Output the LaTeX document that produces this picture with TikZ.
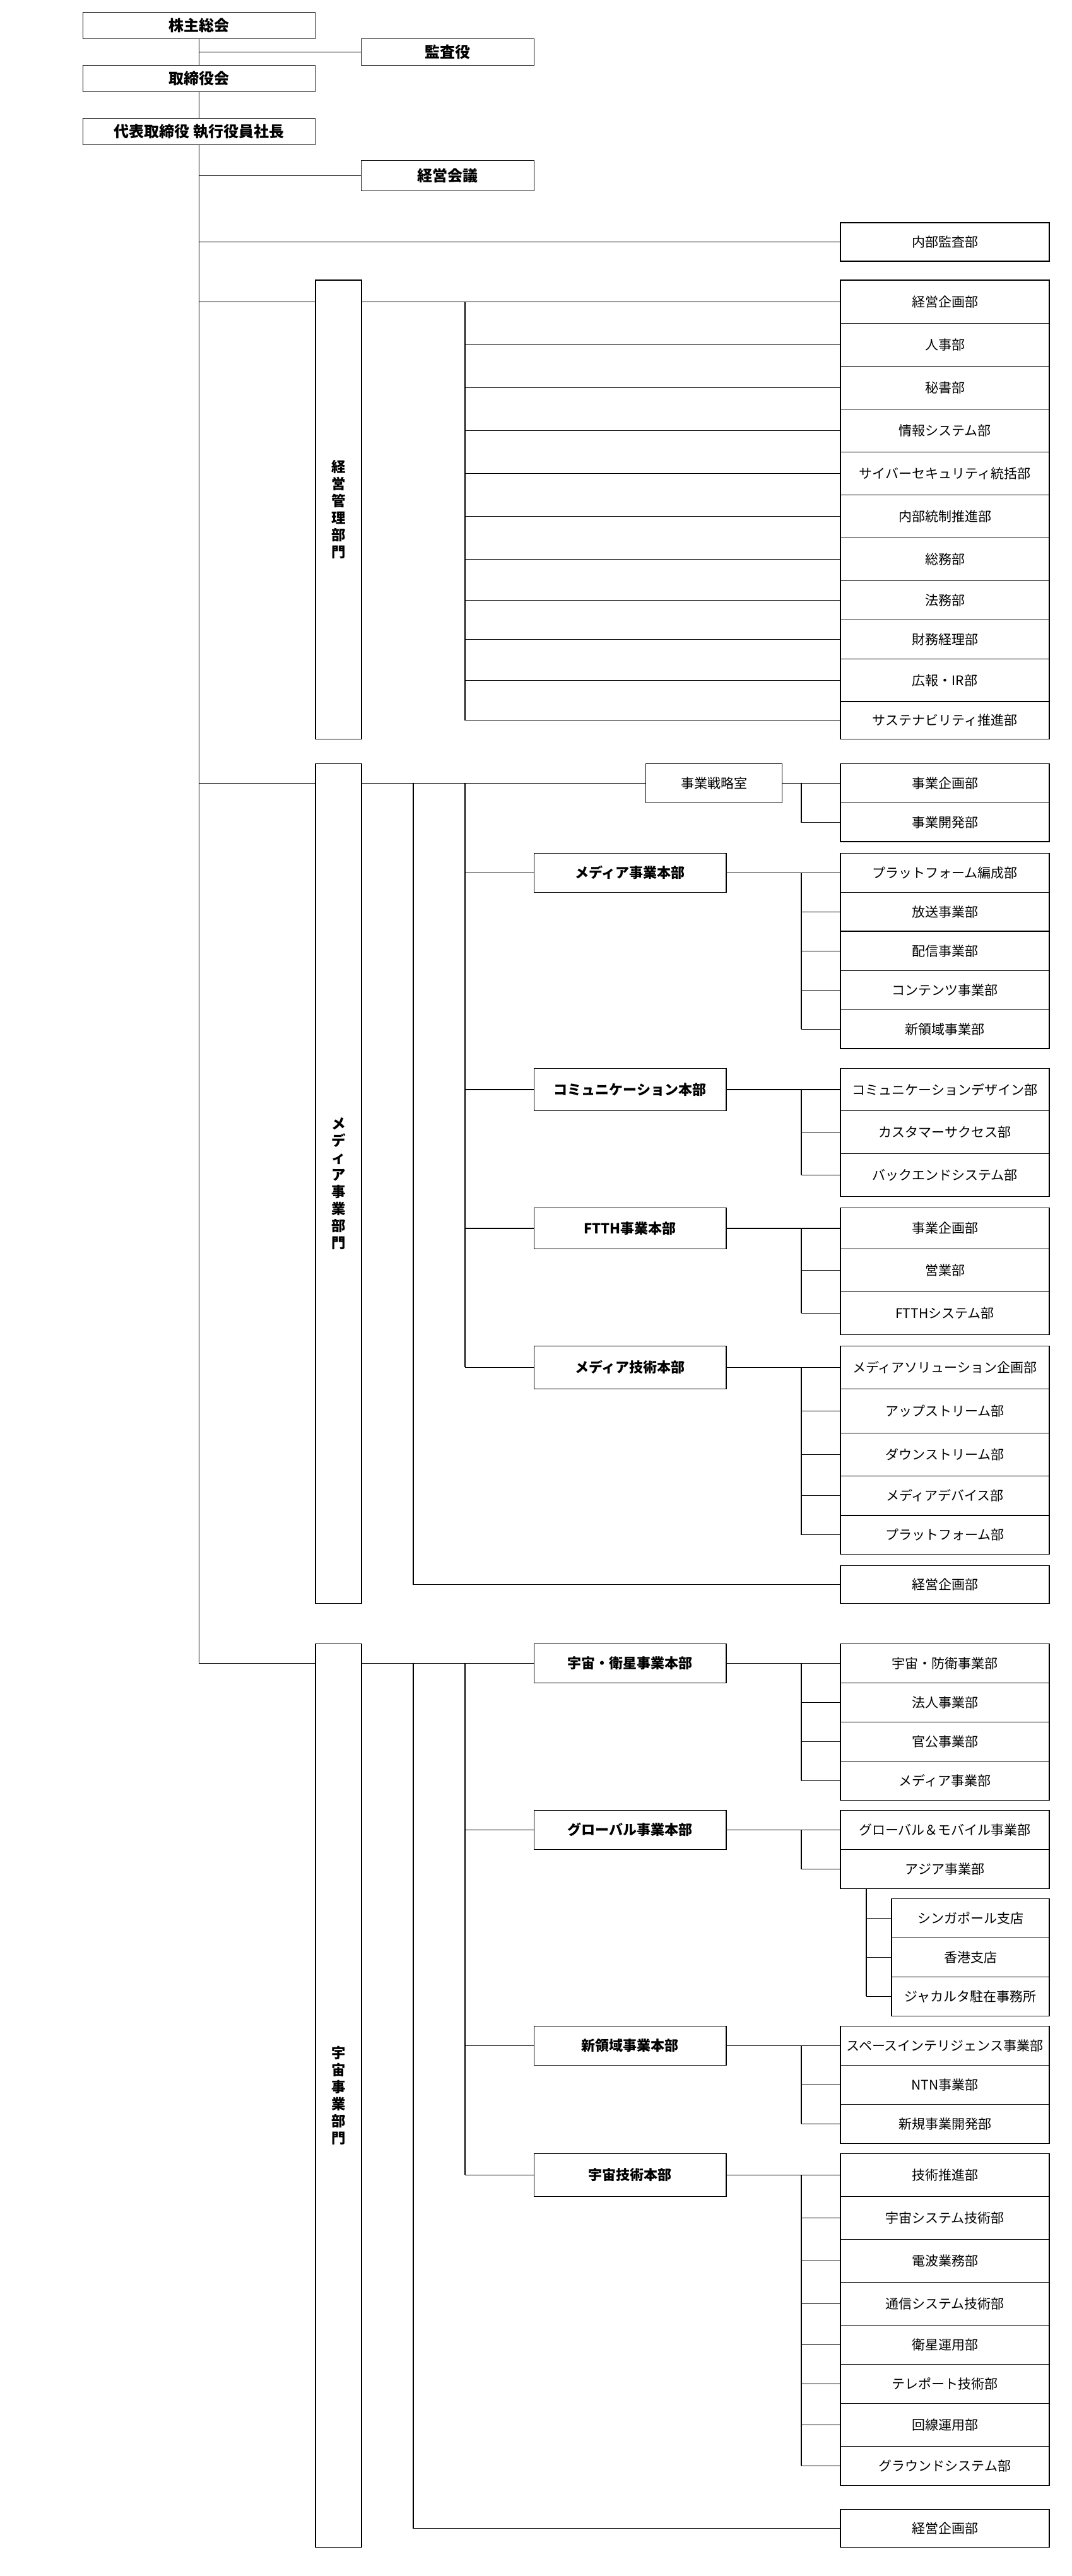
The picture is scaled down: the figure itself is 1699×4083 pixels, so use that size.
\documentclass[tikz,border=0pt]{standalone}
\usepackage{fontspec}
\setmainfont{Noto Sans CJK JP}
\tikzset{
  base/.style={draw, line width=1.4pt, inner sep=0pt, outer sep=0pt, rectangle, fill=white},
  topbox/.style={base, font=\bfseries\fontsize{24}{28}\selectfont},
  hqbox/.style={base, font=\bfseries\fontsize{22}{26}\selectfont},
  deptbox/.style={base, font=\fontsize{21}{25}\selectfont},
  divbox/.style={base, align=center, font=\bfseries\fontsize{22.5}{27}\selectfont},
  conn/.style={line width=1.2pt},
}
\newcommand{\ob}[7]{\node[#6, minimum width={#4-#2}, minimum height={#5-#3}] (#1) at ({(#2+#4)/2},{(#3+#5)/2}) {#7};}
\begin{document}
\begin{tikzpicture}[x=1pt,y=-1pt]
\fill[white] (0,0) rectangle (1699,4083);
\useasboundingbox (0,0) rectangle (1699,4083);
% ---------- top ----------
\ob{sh}{131.5}{19.3}{499.4}{61.3}{topbox}{株主総会}
\ob{kan}{572.3}{61.3}{846.7}{103.3}{topbox}{監査役}
\ob{bod}{131.5}{103.3}{499.4}{145.3}{topbox}{取締役会}
\ob{ceo}{131.5}{187.3}{499.4}{229.3}{topbox}{代表取締役 執行役員社長}
\ob{mtg}{572.3}{254.3}{846.7}{302.3}{topbox}{経営会議}
\ob{audit}{1332}{352.8}{1663}{414}{deptbox}{内部監査部}
% ---------- division 1 ----------
\ob{div1}{500}{443.8}{573}{1171.2}{divbox}{経\\営\\管\\理\\部\\門}
\ob{m1}{1332}{443.8}{1663}{512.7}{deptbox}{経営企画部}
\ob{m2}{1332}{512.7}{1663}{580.4}{deptbox}{人事部}
\ob{m3}{1332}{580.4}{1663}{648.2}{deptbox}{秘書部}
\ob{m4}{1332}{648.2}{1663}{716.4}{deptbox}{情報システム部}
\ob{m5}{1332}{716.4}{1663}{784.2}{deptbox}{サイバーセキュリティ統括部}
\ob{m6}{1332}{784.2}{1663}{852.5}{deptbox}{内部統制推進部}
\ob{m7}{1332}{852.5}{1663}{920.2}{deptbox}{総務部}
\ob{m8}{1332}{920.2}{1663}{982.6}{deptbox}{法務部}
\ob{m9}{1332}{982.6}{1663}{1044.4}{deptbox}{財務経理部}
\ob{m10}{1332}{1044.4}{1663}{1112.1}{deptbox}{広報・IR部}
\ob{m11}{1332}{1112.1}{1663}{1171.2}{deptbox}{サステナビリティ推進部}
% ---------- division 2 ----------
\ob{div2}{500}{1210.3}{573}{2541.4}{divbox}{メ\\デ\\ィ\\ア\\事\\業\\部\\門}
\ob{str}{1023.5}{1210.3}{1239.7}{1272.3}{deptbox}{事業戦略室}
\ob{sa1}{1332}{1210.3}{1663}{1272.3}{deptbox}{事業企画部}
\ob{sa2}{1332}{1272.3}{1663}{1334}{deptbox}{事業開発部}
\ob{h1}{846.3}{1352.2}{1151}{1414.2}{hqbox}{メディア事業本部}
\ob{a1}{1332}{1352.2}{1663}{1414.2}{deptbox}{プラットフォーム編成部}
\ob{a2}{1332}{1414.2}{1663}{1476.1}{deptbox}{放送事業部}
\ob{a3}{1332}{1476.1}{1663}{1538.5}{deptbox}{配信事業部}
\ob{a4}{1332}{1538.5}{1663}{1600.4}{deptbox}{コンテンツ事業部}
\ob{a5}{1332}{1600.4}{1663}{1662.1}{deptbox}{新領域事業部}
\ob{h2}{846.3}{1693.4}{1151}{1760.4}{hqbox}{コミュニケーション本部}
\ob{b1}{1332}{1693.4}{1663}{1760.4}{deptbox}{コミュニケーションデザイン部}
\ob{b2}{1332}{1760.4}{1663}{1828.5}{deptbox}{カスタマーサクセス部}
\ob{b3}{1332}{1828.5}{1663}{1896.2}{deptbox}{バックエンドシステム部}
\ob{h3}{846.3}{1914.6}{1151}{1979.3}{hqbox}{FTTH事業本部}
\ob{c1}{1332}{1914.6}{1663}{1979.3}{deptbox}{事業企画部}
\ob{c2}{1332}{1979.3}{1663}{2047.4}{deptbox}{営業部}
\ob{c3}{1332}{2047.4}{1663}{2115.5}{deptbox}{FTTHシステム部}
\ob{h4}{846.3}{2133.3}{1151}{2201.3}{hqbox}{メディア技術本部}
\ob{d1}{1332}{2133.3}{1663}{2201.3}{deptbox}{メディアソリューション企画部}
\ob{d2}{1332}{2201.3}{1663}{2271.4}{deptbox}{アップストリーム部}
\ob{d3}{1332}{2271.4}{1663}{2339.3}{deptbox}{ダウンストリーム部}
\ob{d4}{1332}{2339.3}{1663}{2401.8}{deptbox}{メディアデバイス部}
\ob{d5}{1332}{2401.8}{1663}{2463.2}{deptbox}{プラットフォーム部}
\ob{mk}{1332}{2481.4}{1663}{2541.4}{deptbox}{経営企画部}
% ---------- division 3 ----------
\ob{div3}{500}{2605.5}{573}{4037.3}{divbox}{宇\\宙\\事\\業\\部\\門}
\ob{s1}{846.3}{2605.5}{1151}{2667.3}{hqbox}{宇宙・衛星事業本部}
\ob{e1}{1332}{2605.5}{1663}{2667.3}{deptbox}{宇宙・防衛事業部}
\ob{e2}{1332}{2667.3}{1663}{2729.5}{deptbox}{法人事業部}
\ob{e3}{1332}{2729.5}{1663}{2791.2}{deptbox}{官公事業部}
\ob{e4}{1332}{2791.2}{1663}{2853.4}{deptbox}{メディア事業部}
\ob{s2}{846.3}{2869.3}{1151}{2931.5}{hqbox}{グローバル事業本部}
\ob{f1}{1332}{2869.3}{1663}{2931.5}{deptbox}{グローバル＆モバイル事業部}
\ob{f2}{1332}{2931.5}{1663}{2993.2}{deptbox}{アジア事業部}
\ob{g1}{1413}{3009.5}{1663}{3071.7}{deptbox}{シンガポール支店}
\ob{g2}{1413}{3071.7}{1663}{3133.5}{deptbox}{香港支店}
\ob{g3}{1413}{3133.5}{1663}{3195.3}{deptbox}{ジャカルタ駐在事務所}
\ob{s3}{846.3}{3211.3}{1151}{3273.3}{hqbox}{新領域事業本部}
\ob{k1}{1332}{3211.3}{1663}{3273.3}{deptbox}{スペースインテリジェンス事業部}
\ob{k2}{1332}{3273.3}{1663}{3335.3}{deptbox}{NTN事業部}
\ob{k3}{1332}{3335.3}{1663}{3397.3}{deptbox}{新規事業開発部}
\ob{s4}{846.3}{3413.3}{1151}{3481.3}{hqbox}{宇宙技術本部}
\ob{t1}{1332}{3413.3}{1663}{3481.3}{deptbox}{技術推進部}
\ob{t2}{1332}{3481.3}{1663}{3549.7}{deptbox}{宇宙システム技術部}
\ob{t3}{1332}{3549.7}{1663}{3617.5}{deptbox}{電波業務部}
\ob{t4}{1332}{3617.5}{1663}{3685.4}{deptbox}{通信システム技術部}
\ob{t5}{1332}{3685.4}{1663}{3747.5}{deptbox}{衛星運用部}
\ob{t6}{1332}{3747.5}{1663}{3809.5}{deptbox}{テレポート技術部}
\ob{t7}{1332}{3809.5}{1663}{3877.2}{deptbox}{回線運用部}
\ob{t8}{1332}{3877.2}{1663}{3939.3}{deptbox}{グラウンドシステム部}
\ob{mk2}{1332}{3977.3}{1663}{4037.3}{deptbox}{経営企画部}
% ---------- coordinates ----------
\coordinate (tx) at (ceo.south);
\coordinate (vA) at (655,0);
\coordinate (vB) at (737,0);
\coordinate (vC) at (1270,0);
\coordinate (vD) at (1373,0);
% ---------- connectors: top ----------
\draw[conn] (sh.south) -- (bod.north);
\draw[conn] (sh.south |- kan.west) -- (kan.west);
\draw[conn] (bod.south) -- (ceo.north);
\draw[conn] (ceo.south) -- (tx |- s1.west);
\draw[conn] (tx |- mtg.west) -- (mtg.west);
\draw[conn] (tx |- audit.west) -- (audit.west);
% ---------- connectors: division 1 ----------
\draw[conn] (tx |- m1.west) -- (div1.west |- m1.west);
\draw[conn] (div1.east |- m1.west) -- (m1.west);
\draw[conn] (vB |- m1.west) -- (vB |- m11.west);
\foreach \n in {m2,m3,m4,m5,m6,m7,m8,m9,m10,m11} \draw[conn] (vB |- \n.west) -- (\n.west);
% ---------- connectors: division 2 ----------
\draw[conn] (tx |- str.west) -- (div2.west |- str.west);
\draw[conn] (div2.east |- str.west) -- (str.west);
\draw[conn] (str.east) -- (sa1.west);
\draw[conn] (vC |- sa1.west) -- (vC |- sa2.west) -- (sa2.west);
\draw[conn] (vA |- str.west) -- (vA |- mk.west) -- (mk.west);
\draw[conn] (vB |- str.west) -- (vB |- h4.west);
\foreach \n in {h1,h2,h3,h4} \draw[conn] (vB |- \n.west) -- (\n.west);
\draw[conn] (h1.east) -- (a1.west);
\draw[conn] (vC |- a1.west) -- (vC |- a5.west);
\foreach \n in {a2,a3,a4,a5} \draw[conn] (vC |- \n.west) -- (\n.west);
\draw[conn] (h2.east) -- (b1.west);
\draw[conn] (vC |- b1.west) -- (vC |- b3.west);
\foreach \n in {b2,b3} \draw[conn] (vC |- \n.west) -- (\n.west);
\draw[conn] (h3.east) -- (c1.west);
\draw[conn] (vC |- c1.west) -- (vC |- c3.west);
\foreach \n in {c2,c3} \draw[conn] (vC |- \n.west) -- (\n.west);
\draw[conn] (h4.east) -- (d1.west);
\draw[conn] (vC |- d1.west) -- (vC |- d5.west);
\foreach \n in {d2,d3,d4,d5} \draw[conn] (vC |- \n.west) -- (\n.west);
% ---------- connectors: division 3 ----------
\draw[conn] (tx |- s1.west) -- (div3.west |- s1.west);
\draw[conn] (div3.east |- s1.west) -- (s1.west);
\draw[conn] (vA |- s1.west) -- (vA |- mk2.west) -- (mk2.west);
\draw[conn] (vB |- s1.west) -- (vB |- s4.west);
\foreach \n in {s2,s3,s4} \draw[conn] (vB |- \n.west) -- (\n.west);
\draw[conn] (s1.east) -- (e1.west);
\draw[conn] (vC |- e1.west) -- (vC |- e4.west);
\foreach \n in {e2,e3,e4} \draw[conn] (vC |- \n.west) -- (\n.west);
\draw[conn] (s2.east) -- (f1.west);
\draw[conn] (vC |- f1.west) -- (vC |- f2.west) -- (f2.west);
\draw[conn] (vD |- f2.south) -- (vD |- g3.west);
\foreach \n in {g1,g2,g3} \draw[conn] (vD |- \n.west) -- (\n.west);
\draw[conn] (s3.east) -- (k1.west);
\draw[conn] (vC |- k1.west) -- (vC |- k3.west);
\foreach \n in {k2,k3} \draw[conn] (vC |- \n.west) -- (\n.west);
\draw[conn] (s4.east) -- (t1.west);
\draw[conn] (vC |- t1.west) -- (vC |- t8.west);
\foreach \n in {t2,t3,t4,t5,t6,t7,t8} \draw[conn] (vC |- \n.west) -- (\n.west);
\end{tikzpicture}
\end{document}
